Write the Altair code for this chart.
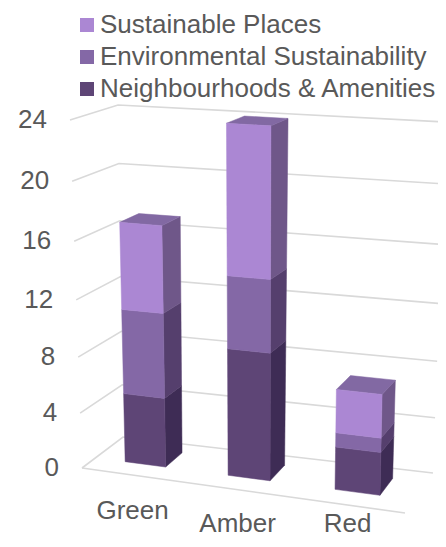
import altair as alt

# Data
categories = ["Green", "Amber", "Red"]
series_names = ["Neighbourhoods & Amenities", "Environmental Sustainability", "Sustainable Places"]
neighbourhoods = [5, 9, 3]
environmental = [6, 5, 1]
sustainable = [6, 10, 3]
tick_values = [0, 4, 8, 12, 16, 20, 24]

# Styles
front_colors = ["#5E4576", "#8468A6", "#AB87D3"]
side_colors = ["#3E2C55", "#553F6D", "#6F5789"]
top_color = "#8269A3"
grid_color = "#D9D9D9"
text_color = "#595959"
FONT = "Liberation Sans"

# Perspective box: page-pixel corners of the (category, depth, value) cube
VMAX = 24
CORNERS = {
    (0, 0, 0): (82, 468), (0, 0, 1): (70, 120),
    (0, 1, 0): (123, 437), (0, 1, 1): (118, 105),
    (1, 0, 0): (405, 513), (1, 0, 1): (413, 141),
    (1, 1, 0): (433, 473), (1, 1, 1): (446, 122),
}
WARP = 0.07
BAR_LEFT = [0.093, 0.416, 0.7515]
BAR_WIDTH = [0.127, 0.1315, 0.141]
D0, D1 = 0.33, 0.76


def project(u, d, v):
    t = v / VMAX
    t = t / (1 + WARP * (1 - t))
    x = y = 0.0
    for (a, b, c), (px, py) in CORNERS.items():
        w = (u if a else 1 - u) * (d if b else 1 - d) * (t if c else 1 - t)
        x += w * px
        y += w * py
    return x, y


def polygon_rows(pts, **extra):
    """Express a convex polygon as horizontal-area rows (y, x, x2)."""
    ys = sorted({round(p[1], 3) for p in pts})
    rows = []
    n = len(pts)
    for y in ys:
        xs = []
        for i in range(n):
            (x1, y1), (x2, y2) = pts[i], pts[(i + 1) % n]
            y1r, y2r = round(y1, 3), round(y2, 3)
            if min(y1r, y2r) <= y <= max(y1r, y2r):
                if y1r == y2r:
                    xs += [x1, x2]
                else:
                    xs.append(x1 + (y - y1r) / (y2r - y1r) * (x2 - x1))
        rows.append(dict(y=y, x=min(xs), x2=max(xs), **extra))
    return rows


front_rows, side_rows, top_rows = [], [], []
stacks = list(zip(neighbourhoods, environmental, sustainable))
for i, cat in enumerate(categories):
    u0 = BAR_LEFT[i]
    u1 = u0 + BAR_WIDTH[i]
    base = 0
    for s, val in enumerate(stacks[i]):
        vt = base + val
        pid = f"{cat}-{s}"
        front_rows += polygon_rows(
            [project(u0, D0, base), project(u1, D0, base), project(u1, D0, vt), project(u0, D0, vt)],
            poly=pid, series=series_names[s])
        side_rows += polygon_rows(
            [project(u1, D0, base), project(u1, D1, base), project(u1, D1, vt), project(u1, D0, vt)],
            poly=pid, c=side_colors[s])
        base = vt
    top_rows += polygon_rows(
        [project(u0, D0, base), project(u1, D0, base), project(u1, D1, base), project(u0, D1, base)],
        poly=cat, c=top_color)

grid_rows = []
for v in tick_values:
    pts = [project(0, 0, v), project(0, 1, v), project(1, 1, v)]
    for k, (x, y) in enumerate(pts):
        grid_rows.append(dict(x=x, y=y, g=str(v), k=k))
for k, (x, y) in enumerate([project(0, 0, 0), project(1, 0, 0)]):
    grid_rows.append(dict(x=x, y=y, g="floor", k=k))

tick_rows = []
for v in tick_values:
    x, y = project(0, 0, v)
    tick_rows.append(dict(x=x - 23, y=y, t=str(v)))
cat_rows = []
for i, cat in enumerate(categories):
    x, y = project(BAR_LEFT[i] + BAR_WIDTH[i] / 2, 0, 0)
    cat_rows.append(dict(x=x, y=min(y + 36, 524), t=cat))

# The page keeps an 8px margin, so the drawing runs from 8 to 438 and 8 to 539
W, H = 430, 531
xs = alt.Scale(domain=[8, 438], range=[0, W], nice=False, zero=False)
ys = alt.Scale(domain=[8, 539], range=[0, H], nice=False, zero=False)
X = lambda f="x": alt.X(f"{f}:Q", scale=xs, axis=None, stack=None)
Y = lambda f="y": alt.Y(f"{f}:Q", scale=ys, axis=None, stack=None)

grid = alt.Chart(alt.Data(values=grid_rows)).mark_line(
    color=grid_color, strokeWidth=1.6, clip=True
).encode(x=X(), y=Y(), detail="g:N", order="k:Q")

legend_order = list(reversed(series_names))
legend_colors = list(reversed(front_colors))
color_scale = alt.Scale(domain=legend_order, range=legend_colors)
front = alt.Chart(alt.Data(values=front_rows)).mark_area(orient="horizontal", strokeWidth=0.5).encode(
    x=X(), x2="x2:Q", y=Y(), detail="poly:N",
    color=alt.Color("series:N", scale=color_scale, legend=alt.Legend(
        title=None, orient="none", legendX=66, legendY=4, symbolType="square",
        symbolSize=196, symbolStrokeWidth=0, labelFontSize=26, labelFont=FONT,
        labelColor=text_color, rowPadding=6, labelOffset=0, padding=0, labelLimit=400)),
    stroke=alt.Stroke("series:N", scale=color_scale, legend=None),
)


def flat(rows):
    return alt.Chart(alt.Data(values=rows)).mark_area(orient="horizontal", strokeWidth=0.5).encode(
        x=X(), x2="x2:Q", y=Y(), detail="poly:N",
        color=alt.Color("c:N", scale=None), stroke=alt.Stroke("c:N", scale=None))


ticks = alt.Chart(alt.Data(values=tick_rows)).mark_text(
    font=FONT, fontSize=26, color=text_color, baseline="middle", align="right"
).encode(x=X(), y=Y(), text="t:N")
cats = alt.Chart(alt.Data(values=cat_rows)).mark_text(
    font=FONT, fontSize=26, color=text_color, baseline="middle", align="center"
).encode(x=X(), y=Y(), text="t:N")

chart = alt.layer(grid, flat(side_rows), flat(top_rows), front, ticks, cats).properties(
    width=W, height=H, padding=0, autosize=alt.AutoSizeParams(type="none"), background="white"
).configure_view(stroke=None)

chart.save("out.html", embed_options={"renderer": "svg", "actions": False})
